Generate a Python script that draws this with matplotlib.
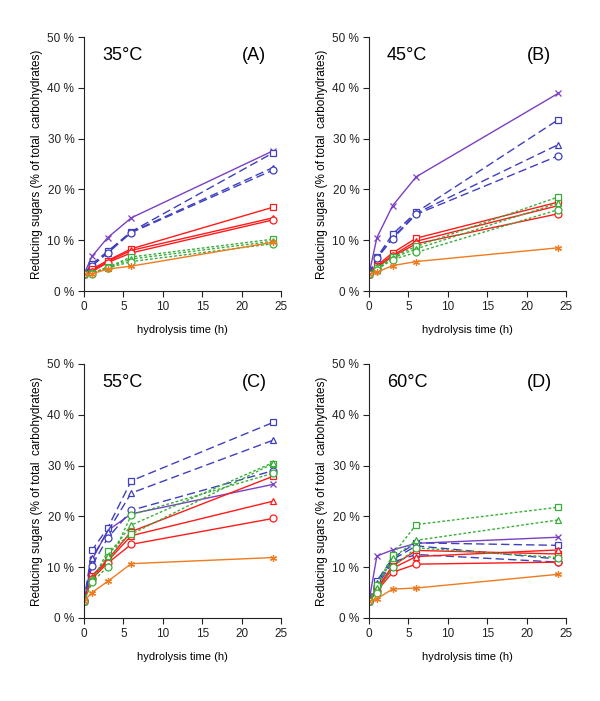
import matplotlib
matplotlib.use("Agg")
import matplotlib.pyplot as plt
from matplotlib.ticker import FuncFormatter

plt.rcParams['font.family'] = ['Liberation Sans', 'DejaVu Sans']

hours = [0, 1, 3, 6, 24]
series_names = ["purple_x", "blue_sq", "blue_tri", "blue_circ",
                "red_sq", "red_tri", "red_circ",
                "green_sq", "green_tri", "green_circ", "orange_star"]

# Panel A (35°C)
a_purple_x = [3.3, 6.8, 10.5, 14.4, 27.6]
a_blue_sq = [3.3, 5.3, 7.8, 11.7, 27.2]
a_blue_tri = [3.3, 5.0, 7.5, 11.6, 24.3]
a_blue_circ = [3.3, 5.0, 7.5, 11.5, 23.8]
a_red_sq = [3.3, 4.3, 6.0, 8.3, 16.5]
a_red_tri = [3.3, 4.0, 5.8, 8.0, 14.4]
a_red_circ = [3.3, 3.8, 5.6, 7.5, 14.0]
a_green_sq = [3.3, 3.5, 4.7, 6.7, 10.2]
a_green_tri = [3.3, 3.5, 4.6, 6.3, 9.8]
a_green_circ = [3.3, 3.4, 4.5, 5.8, 9.3]
a_orange_star = [3.3, 3.4, 4.3, 4.9, 9.6]

# Panel B (45°C)
b_purple_x = [3.3, 10.5, 16.8, 22.5, 38.9]
b_blue_sq = [3.3, 6.6, 11.2, 15.5, 33.7]
b_blue_tri = [3.3, 6.5, 10.5, 15.3, 28.8]
b_blue_circ = [3.3, 6.4, 10.3, 15.1, 26.6]
b_red_sq = [3.3, 5.0, 7.5, 10.4, 17.5]
b_red_tri = [3.3, 4.8, 7.0, 9.8, 16.8]
b_red_circ = [3.3, 4.6, 6.8, 9.3, 15.2]
b_green_sq = [3.3, 4.5, 6.7, 8.8, 18.5]
b_green_tri = [3.3, 4.3, 6.5, 8.3, 17.3]
b_green_circ = [3.3, 4.2, 6.2, 7.6, 16.0]
b_orange_star = [3.3, 3.7, 5.0, 5.8, 8.5]

# Panel C (55°C)
c_purple_x = [3.3, 11.4, 17.2, 20.5, 26.3]
c_blue_sq = [3.3, 13.3, 17.7, 27.0, 38.5]
c_blue_tri = [3.3, 11.8, 17.0, 24.6, 35.0]
c_blue_circ = [3.3, 10.3, 15.7, 21.2, 29.0]
c_red_sq = [3.3, 8.3, 11.5, 17.0, 27.9]
c_red_tri = [3.3, 8.0, 11.2, 16.2, 23.0]
c_red_circ = [3.3, 7.7, 10.8, 14.5, 19.6]
c_green_sq = [3.3, 7.2, 13.1, 16.5, 30.4]
c_green_tri = [3.3, 7.6, 12.2, 18.3, 30.6]
c_green_circ = [3.3, 7.0, 10.1, 20.3, 28.5]
c_orange_star = [3.3, 5.0, 7.2, 10.7, 11.9]

# Panel D (60°C)
d_purple_x = [3.3, 12.2, 13.4, 14.7, 15.9]
d_blue_sq = [3.3, 7.3, 11.8, 14.8, 14.3]
d_blue_tri = [3.3, 6.8, 11.5, 14.2, 11.6]
d_blue_circ = [3.3, 6.3, 11.0, 12.5, 11.0]
d_red_sq = [3.3, 5.8, 10.3, 13.3, 12.6]
d_red_tri = [3.3, 5.6, 9.8, 12.1, 13.4]
d_red_circ = [3.3, 5.3, 9.0, 10.6, 11.0]
d_green_sq = [3.3, 6.5, 12.4, 18.4, 21.8]
d_green_tri = [3.3, 6.0, 11.8, 15.3, 19.3]
d_green_circ = [3.3, 5.0, 10.0, 13.8, 11.9]
d_orange_star = [3.3, 3.8, 5.7, 5.9, 8.6]

panel_temps = ["35°C", "45°C", "55°C", "60°C"]
panel_letters = ["(A)", "(B)", "(C)", "(D)"]

panels = [
    [a_purple_x, a_blue_sq, a_blue_tri, a_blue_circ, a_red_sq, a_red_tri, a_red_circ,
     a_green_sq, a_green_tri, a_green_circ, a_orange_star],
    [b_purple_x, b_blue_sq, b_blue_tri, b_blue_circ, b_red_sq, b_red_tri, b_red_circ,
     b_green_sq, b_green_tri, b_green_circ, b_orange_star],
    [c_purple_x, c_blue_sq, c_blue_tri, c_blue_circ, c_red_sq, c_red_tri, c_red_circ,
     c_green_sq, c_green_tri, c_green_circ, c_orange_star],
    [d_purple_x, d_blue_sq, d_blue_tri, d_blue_circ, d_red_sq, d_red_tri, d_red_circ,
     d_green_sq, d_green_tri, d_green_circ, d_orange_star],
]

purple = '#7B3FC4'
blue = '#3F3FC0'
red = '#FF1A1A'
green = '#3AAE3A'
orange = '#F07A1E'

styles = [
    dict(color=purple, ls='-', marker='x', ms=5),
    dict(color=blue, ls=(0, (6, 3)), marker='s', ms=5),
    dict(color=blue, ls=(0, (6, 3)), marker='^', ms=5),
    dict(color=blue, ls=(0, (6, 3)), marker='o', ms=5),
    dict(color=red, ls='-', marker='s', ms=5),
    dict(color=red, ls='-', marker='^', ms=5),
    dict(color=red, ls='-', marker='o', ms=5),
    dict(color=green, ls=(0, (2, 1.5)), marker='s', ms=5),
    dict(color=green, ls=(0, (2, 1.5)), marker='^', ms=5),
    dict(color=green, ls=(0, (2, 1.5)), marker='o', ms=5),
    dict(color=orange, ls='-', marker=(6, 2, 0), ms=5),
]

fig = plt.figure(figsize=(6.0, 7.01), dpi=100)
W, H = 600, 701
positions = [(84, 37), (369, 37), (84, 364), (369, 364)]
aw, ah = 197, 254

pct = FuncFormatter(lambda v, p: f"{int(round(v))} %")

for i, (px, py) in enumerate(positions):
    ax = fig.add_axes([px / W, 1 - (py + ah) / H, aw / W, ah / H])
    for vals, st in zip(panels[i], styles):
        ax.plot(hours, vals, color=st['color'], linestyle=st['ls'], lw=1.0,
                marker=st['marker'], ms=st['ms'], mfc='white', mec=st['color'],
                mew=0.9)
    ax.set_xlim(0, 25)
    ax.set_ylim(0, 50)
    ax.set_xticks([0, 5, 10, 15, 20, 25])
    ax.set_yticks([0, 10, 20, 30, 40, 50])
    ax.yaxis.set_major_formatter(pct)
    for s in ['top', 'right']:
        ax.spines[s].set_visible(False)
    for s in ['left', 'bottom']:
        ax.spines[s].set_linewidth(0.8)
        ax.spines[s].set_color('#222222')
    ax.tick_params(axis='both', direction='out', length=4, width=0.8,
                   labelsize=8.5, colors='#222222', pad=3)
    ax.set_xlabel("hydrolysis time (h)", fontsize=8, labelpad=9)
    ax.set_ylabel("Reducing sugars (% of total  carbohydrates)", fontsize=8.5,
                  labelpad=3)
    ax.text(2.3, 46.3, panel_temps[i], fontsize=13, va='center', ha='left')
    ax.text(21.6, 46.3, panel_letters[i], fontsize=13, va='center', ha='center')

fig.savefig("out.png", dpi=100)
